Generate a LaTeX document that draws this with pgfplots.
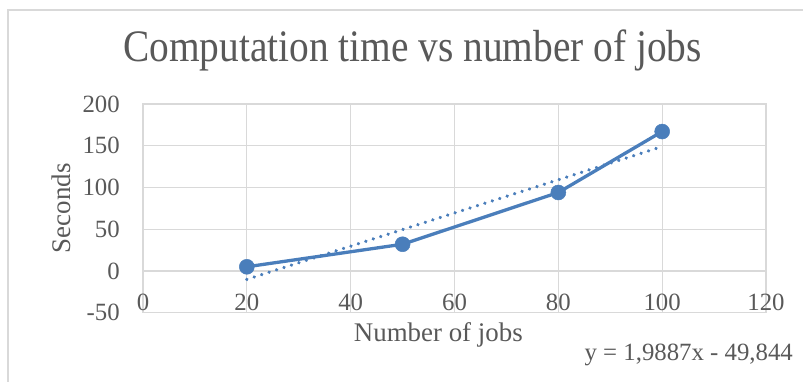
\documentclass[border=0pt]{standalone}
\usepackage{pgfplots}
\pgfplotsset{compat=1.18}
\usepackage{fontspec}
\setmainfont{Liberation Serif}
\newfontfamily\titlefont[FakeStretch=0.875]{Liberation Serif}
\definecolor{txt}{HTML}{595959}
\definecolor{grd}{HTML}{D9D9D9}
\definecolor{ser}{HTML}{4A7EBB}
\begin{document}
\begin{tikzpicture}[x=1pt,y=1pt]
\useasboundingbox (0,0) rectangle (803,381);
\clip (0,0) rectangle (803,381);
\draw[grd, line width=1.3pt] (8,-20) -- (8,371) -- (830,371);
\begin{axis}[
  at={(143pt,68.3pt)}, anchor=south west,
  scale only axis, width=623pt, height=208.7pt,
  xmin=0, xmax=120, ymin=-50, ymax=200,
  xtick={0,20,...,120}, ytick={-50,0,...,200},
  grid=major, grid style={grd, line width=1.3pt},
  axis line style={grd, line width=1.3pt},
  major tick length=0pt,
  clip=false,
  /pgf/number format/assume math mode=true,
  tick label style={font=\fontsize{24.8}{28}\selectfont, text=txt, inner sep=0pt},
  xticklabel style={anchor=base, yshift=2pt},
  yticklabel style={anchor=east, xshift=-23pt},
  title={\titlefont Computation time vs number of jobs},
  title style={at={(axis description cs:0.4326,1.177)}, anchor=base, inner sep=0pt,
    font=\fontsize{45}{50}\selectfont, text=txt},
  xlabel={Number of jobs},
  xlabel style={at={(axis description cs:0.474,-0.139)}, anchor=base, inner sep=0pt,
    font=\fontsize{26.9}{30}\selectfont, text=txt},
  ylabel={Seconds},
  ylabel style={at={(axis description cs:-0.117,0.5)}, anchor=base, inner sep=0pt,
    font=\fontsize{26.9}{30}\selectfont, text=txt},
]
\addplot[ser, line width=3.3pt, mark=*, mark size=7.5pt, mark options={fill=ser, draw=ser, line width=0.5pt}]
  coordinates {(20,5) (50,32) (80,94) (100,167)};
\addplot[ser, line width=3.6pt, line cap=round, dash pattern=on 0.01pt off 7.8pt]
  coordinates {(20,-10.07) (100,149.03)};
\node[anchor=base, inner sep=0pt, font=\fontsize{24.8}{28}\selectfont, text=txt]
  at (axis description cs:0.876,-0.2314) {y = 1,9887x - 49,844};
\end{axis}
\end{tikzpicture}
\end{document}
